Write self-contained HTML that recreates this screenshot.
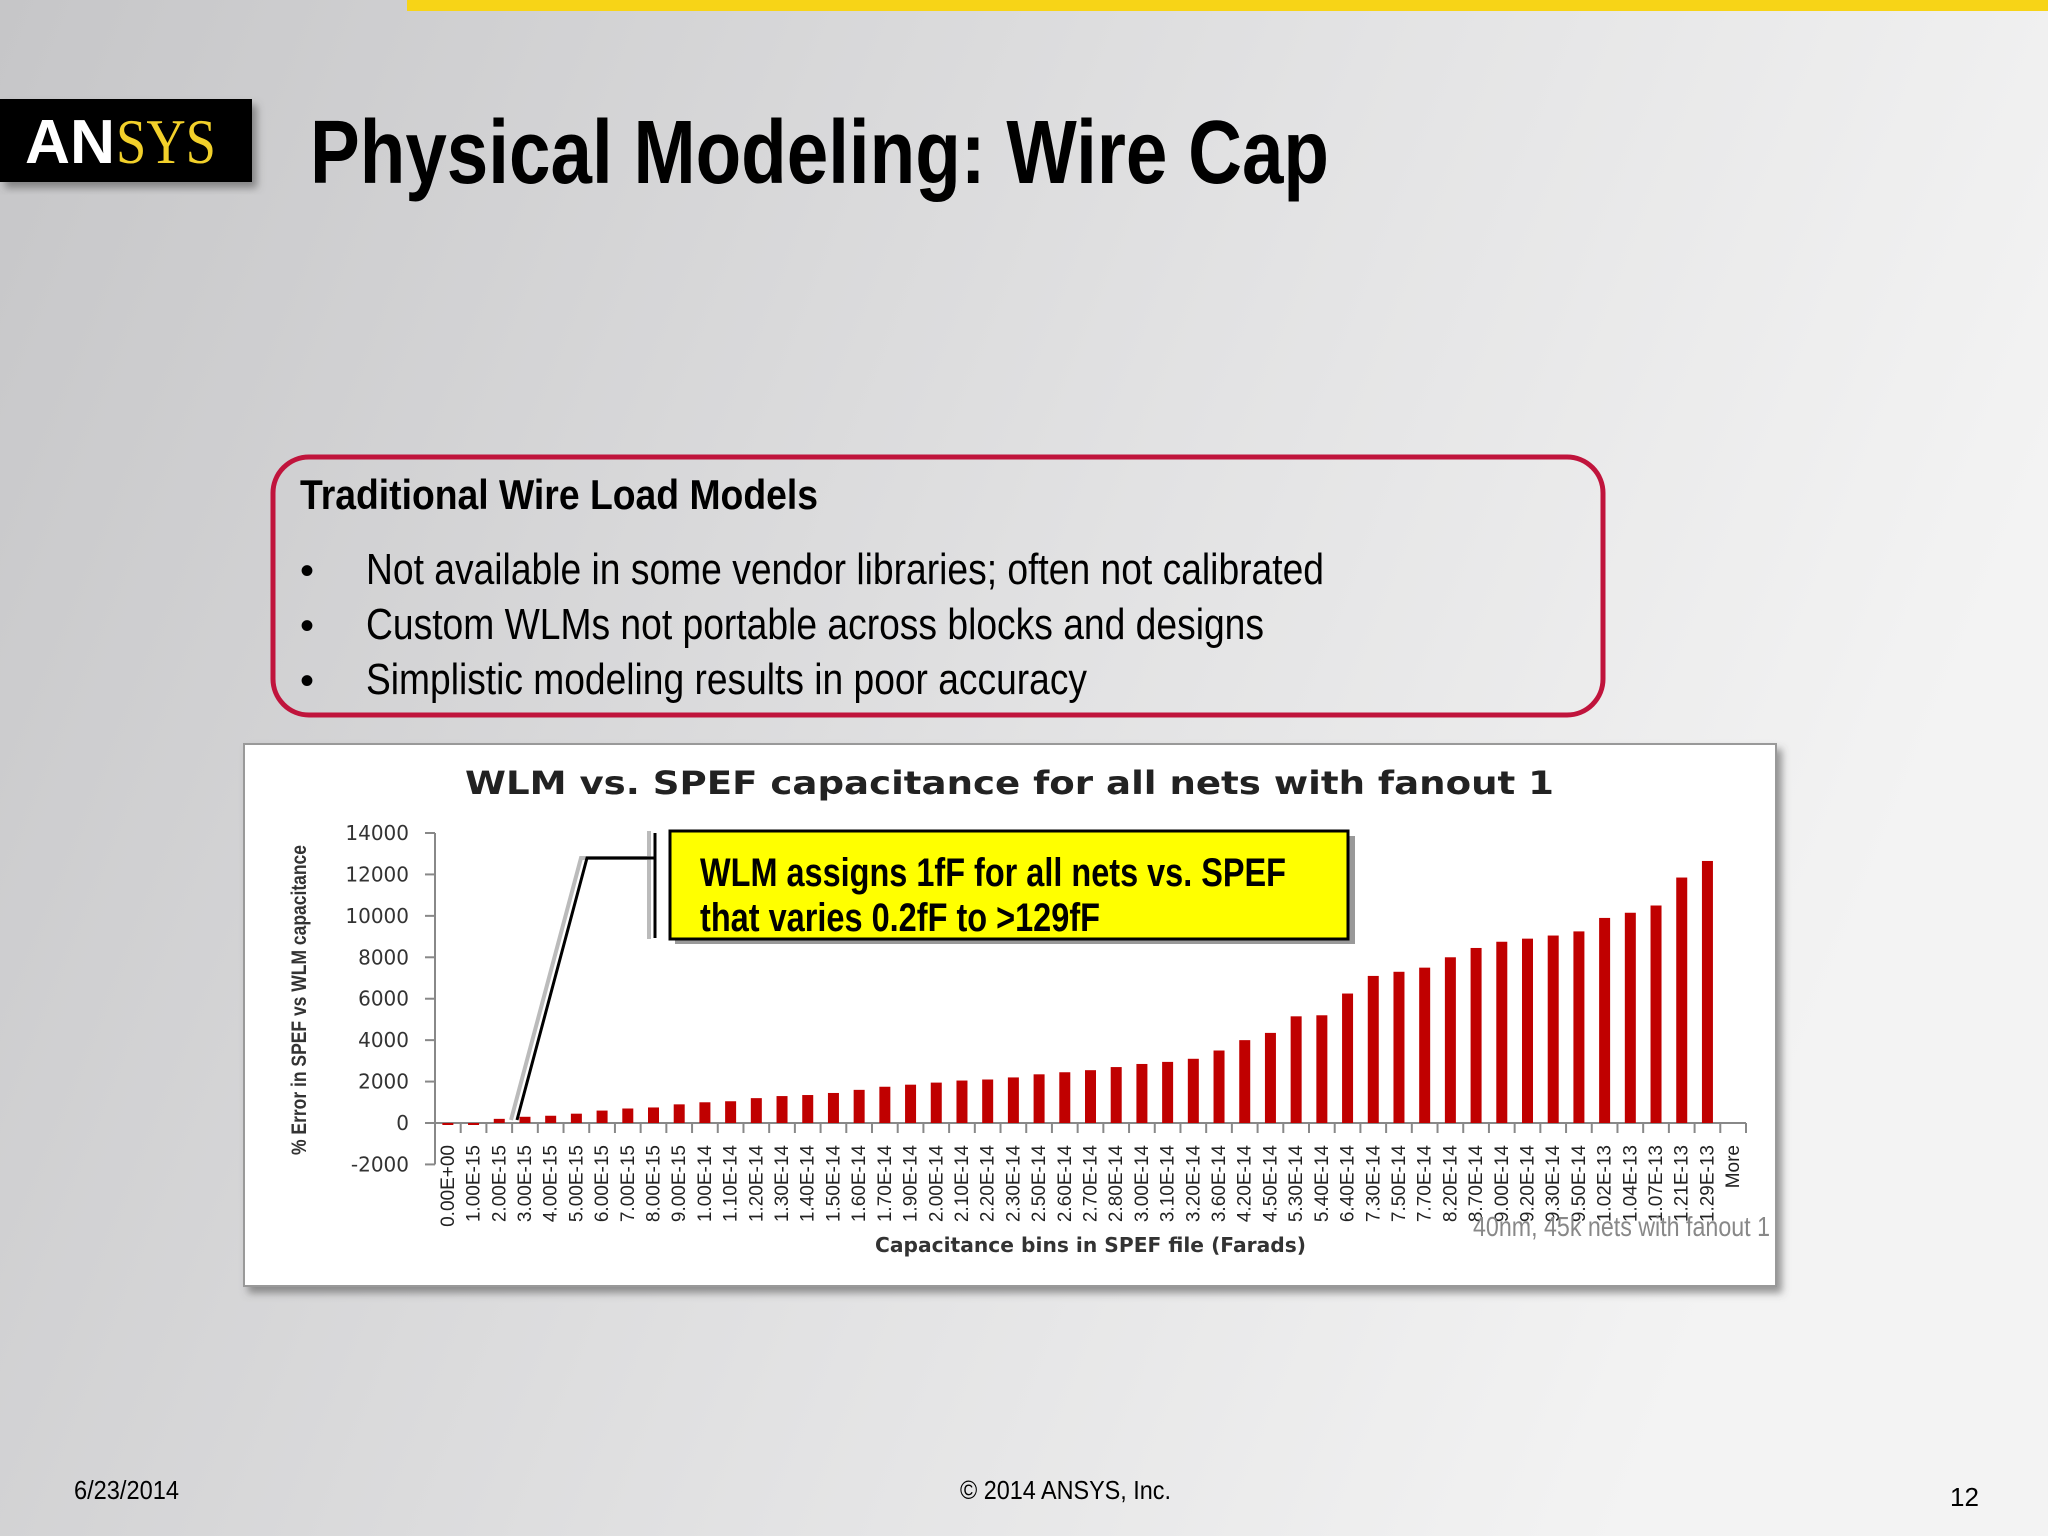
<!DOCTYPE html>
<html><head><meta charset="utf-8"><style>
html,body{margin:0;padding:0;width:2048px;height:1536px;overflow:hidden;}
svg{display:block}
</style></head><body>
<svg width="2048" height="1536" viewBox="0 0 2048 1536" xmlns="http://www.w3.org/2000/svg" font-family="Liberation Sans, sans-serif">
<defs>
<linearGradient id="bg" x1="0" y1="0" x2="1" y2="0.3">
<stop offset="0" stop-color="#c6c6c8"/><stop offset="0.6" stop-color="#e2e2e3"/><stop offset="1" stop-color="#f3f3f3"/>
</linearGradient>
<filter id="sh" x="-5%" y="-5%" width="115%" height="120%"><feDropShadow dx="5" dy="6" stdDeviation="4" flood-color="#555" flood-opacity="0.6"/></filter>
</defs>
<rect width="2048" height="1536" fill="url(#bg)"/>
<rect x="407" y="0" width="1641" height="11" fill="#f7d417"/>
<g filter="url(#sh)">
<rect x="0" y="99" width="252" height="83" fill="#000"/>
</g>
<text x="25" y="163" font-size="62" font-weight="bold" fill="#fff" textLength="90" lengthAdjust="spacingAndGlyphs">AN</text>
<text x="116" y="163" font-size="64" font-family="Liberation Serif, serif" fill="#f2d02a" textLength="100" lengthAdjust="spacingAndGlyphs">SYS</text>
<text x="310" y="183" font-size="90" font-weight="bold" fill="#000" textLength="1019" lengthAdjust="spacingAndGlyphs">Physical Modeling: Wire Cap</text>

<g>
<rect x="273" y="457" width="1330" height="258" rx="36" fill="none" stroke="#c0143c" stroke-width="5"/>
<text x="300" y="509" font-size="42" font-weight="bold" fill="#000" textLength="518" lengthAdjust="spacingAndGlyphs">Traditional Wire Load Models</text>
<text x="300" y="584" font-size="40" fill="#000">•</text>
<text x="300" y="639" font-size="40" fill="#000">•</text>
<text x="300" y="694" font-size="40" fill="#000">•</text>
<text x="366" y="584" font-size="44" fill="#000" textLength="958" lengthAdjust="spacingAndGlyphs">Not available in some vendor libraries; often not calibrated</text>
<text x="366" y="639" font-size="44" fill="#000" textLength="898" lengthAdjust="spacingAndGlyphs">Custom WLMs not portable across blocks and designs</text>
<text x="366" y="694" font-size="44" fill="#000" textLength="721" lengthAdjust="spacingAndGlyphs">Simplistic modeling results in poor accuracy</text>
</g>

<g filter="url(#sh)">
<rect x="244" y="744" width="1532" height="542" fill="#fff" stroke="#999" stroke-width="2"/>
</g>
<text x="465" y="794" font-size="32" font-weight="bold" font-family="DejaVu Sans, sans-serif" fill="#222" textLength="1089" lengthAdjust="spacingAndGlyphs">WLM vs. SPEF capacitance for all nets with fanout 1</text>
<text transform="translate(306,1000) rotate(-90)" text-anchor="middle" font-size="21" font-weight="bold" fill="#333" textLength="310" lengthAdjust="spacingAndGlyphs">% Error in SPEF vs WLM capacitance</text>
<text x="875" y="1252" font-size="20" font-weight="bold" font-family="DejaVu Sans, sans-serif" fill="#333" textLength="431" lengthAdjust="spacingAndGlyphs">Capacitance  bins in SPEF file (Farads)</text>
<g id="chart"></g>
<text x="1473" y="1236" font-size="28" fill="#888" textLength="297" lengthAdjust="spacingAndGlyphs">40nm, 45k nets with fanout 1</text>

<g>
<polyline points="511,1120 581,858 648,858" fill="none" stroke="#bbb" stroke-width="4"/>
<line x1="649" y1="831" x2="649" y2="939" stroke="#bbb" stroke-width="4"/>
<polyline points="517,1120 587,858 654,858" fill="none" stroke="#000" stroke-width="3"/>
<line x1="655" y1="833" x2="655" y2="938" stroke="#000" stroke-width="3"/>
<rect x="675" y="836" width="680" height="108" fill="#999"/>
<rect x="670" y="831" width="678" height="108" fill="#ffff00" stroke="#000" stroke-width="3"/>
<text x="700" y="886" font-size="40" font-weight="bold" fill="#000" textLength="586" lengthAdjust="spacingAndGlyphs">WLM assigns 1fF for all nets vs. SPEF</text>
<text x="700" y="931" font-size="40" font-weight="bold" fill="#000" textLength="400" lengthAdjust="spacingAndGlyphs">that varies 0.2fF to &gt;129fF</text>
</g>

<text x="74" y="1499" font-size="26" fill="#000" textLength="105" lengthAdjust="spacingAndGlyphs">6/23/2014</text>
<text x="960" y="1499" font-size="26" fill="#000" textLength="211" lengthAdjust="spacingAndGlyphs">© 2014 ANSYS, Inc.</text>
<text x="1950" y="1506" font-size="26" fill="#000">12</text>
</svg>
<script>
const categories = ["0.00E+00","1.00E-15","2.00E-15","3.00E-15","4.00E-15","5.00E-15","6.00E-15","7.00E-15","8.00E-15","9.00E-15","1.00E-14","1.10E-14","1.20E-14","1.30E-14","1.40E-14","1.50E-14","1.60E-14","1.70E-14","1.90E-14","2.00E-14","2.10E-14","2.20E-14","2.30E-14","2.50E-14","2.60E-14","2.70E-14","2.80E-14","3.00E-14","3.10E-14","3.20E-14","3.60E-14","4.20E-14","4.50E-14","5.30E-14","5.40E-14","6.40E-14","7.30E-14","7.50E-14","7.70E-14","8.20E-14","8.70E-14","9.00E-14","9.20E-14","9.30E-14","9.50E-14","1.02E-13","1.04E-13","1.07E-13","1.21E-13","1.29E-13","More"];
const errorValues = [-60,-60,200,300,350,450,600,700,750,900,1000,1050,1200,1300,1350,1450,1600,1750,1850,1950,2050,2100,2200,2350,2450,2550,2700,2850,2950,3100,3500,4000,4350,5150,5200,6250,7100,7300,7500,8000,8450,8750,8900,9050,9250,9900,10150,10500,11850,12650,0];
const yTicks = [14000,12000,10000,8000,6000,4000,2000,0,-2000];

const NS="http://www.w3.org/2000/svg";
const g=document.getElementById('chart');
const x0=435, x1=1746, yTop=833, yZero=1123;
const yScale=v=>yZero-(v/14000)*(yZero-yTop);
const bw=(x1-x0)/categories.length;
const xScale=i=>x0+bw*(i+0.5);
function mk(tag,attrs){const e=document.createElementNS(NS,tag);for(const k in attrs)e.setAttribute(k,attrs[k]);g.appendChild(e);return e;}
// axes
const ya=mk('line',{x1:x0,y1:yTop,x2:x0,y2:yScale(-2000),stroke:'#888','stroke-width':2});


const xa=mk('line',{x1:x0,y1:yZero,x2:x1,y2:yZero,stroke:'#888','stroke-width':2});


yTicks.forEach(t=>{
  const y=yScale(t);
  mk('line',{x1:x0-10,y1:y,x2:x0,y2:y,stroke:'#888','stroke-width':2});
  const tx=mk('text',{x:x0-26,y:y+7,'text-anchor':'end','font-size':20,'font-family':'DejaVu Sans, sans-serif',fill:'#333'});
  tx.textContent=t;
  
  
});
categories.forEach((c,i)=>{
  const xt=x0+bw*(i+1);
  mk('line',{x1:xt,y1:yZero,x2:xt,y2:yZero+10,stroke:'#888','stroke-width':2});
  const v=errorValues[i];
  if(v!==0){
    const y=yScale(Math.max(v,0)), h=Math.abs(yScale(v)-yZero);
    const r=mk('rect',{x:xScale(i)-5.5,y:y,width:11,height:Math.max(h,2),fill:'#c00000'});
    
    
  }
  const lx=xScale(i)+6, ly=1145;
  const t=mk('text',{x:lx,y:ly,transform:`rotate(-90 ${lx} ${ly})`,'text-anchor':'end','font-size':19,fill:'#222'});
  t.textContent=c;
  
  
});
</script>
</body></html>
